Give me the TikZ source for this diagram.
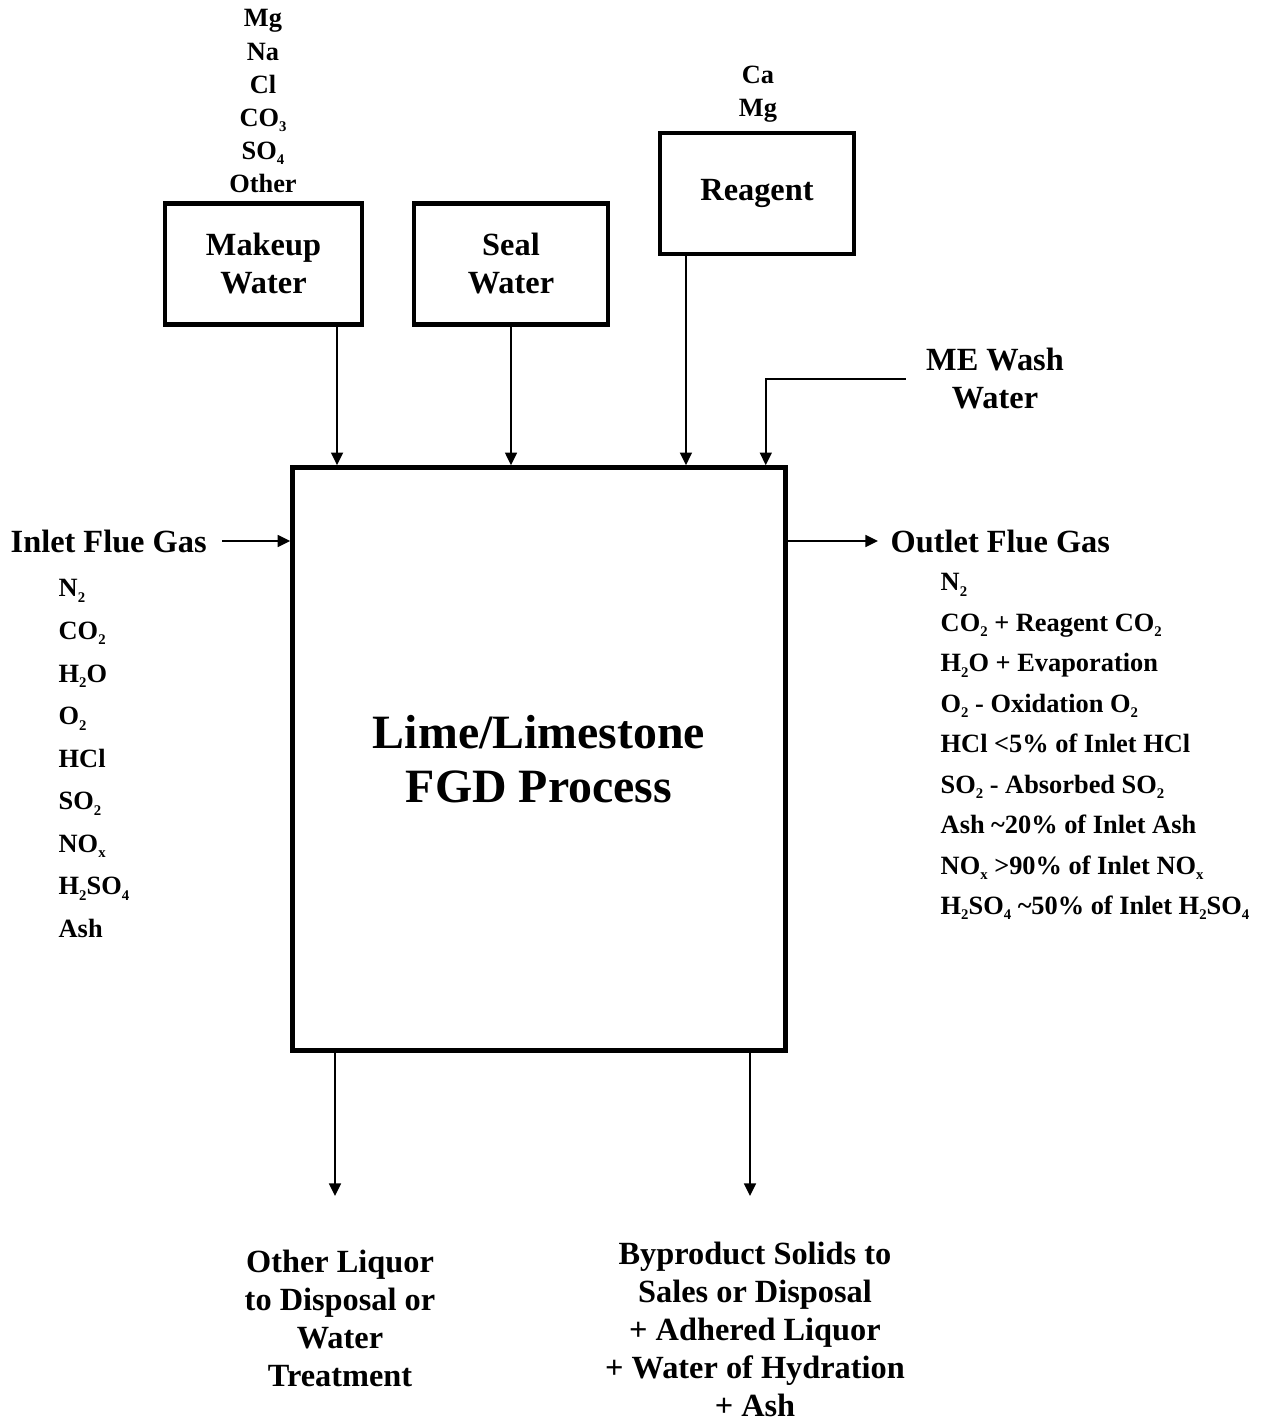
\documentclass[tikz,border=0pt]{standalone}
\usepackage{fontspec}
\setmainfont{Liberation Serif}
\usetikzlibrary{arrows.meta,positioning}
\newcommand{\sub}[1]{\raisebox{-0.45ex}{\fontsize{4.2}{4.2}\selectfont #1}}
\begin{document}
\begin{tikzpicture}[x=0.01cm, y=-0.01cm,
  flow/.style={-{Triangle[length=3.6pt,width=3.4pt]}, line width=0.5pt},
  unit/.style={draw, line width=1.2pt, minimum width=1.94cm, minimum height=1.21cm,
    align=center, font=\fontsize{9.2}{10.8}\selectfont\bfseries},
  lbl/.style={align=center, inner sep=0pt, font=\fontsize{9.2}{10.8}\selectfont\bfseries},
  ions/.style={align=center, inner sep=0pt, font=\fontsize{7.5}{9.4}\selectfont\bfseries},
  species/.style={align=left, inner sep=0pt, font=\fontsize{7.5}{12.1}\selectfont\bfseries}]
  \useasboundingbox (0,0) rectangle (1261,1418);
  % process block
  \node[draw, line width=1.5pt, minimum width=4.92cm, minimum height=5.82cm, align=center,
    font=\fontsize{13.6}{15.4}\selectfont\bfseries] (fgd) at (539,759) {Lime/Limestone\\FGD Process};
  % feed boxes
  \node[unit, minimum width=1.97cm] (makeup) at (263.5,264) {Makeup\\Water};
  \node[unit] (seal) at (511,264) {Seal\\Water};
  \node[unit] (reagent) at (757,193.5) {Reagent};
  \node[ions, anchor=north] (makeupions) at (263,9) {Mg\\Na\\Cl\\CO\sub{3}\\SO\sub{4}\\Other};
  \node[ions, anchor=north] (reagentions) at (758,65) {Ca\\Mg};
  \node[lbl] (mewash) at (995,379) {ME Wash\\Water};
  % gas streams
  \node[lbl, anchor=west] (inlet) at (10,541) {Inlet Flue Gas};
  \node[lbl, anchor=west] (outlet) at (890,541) {Outlet Flue Gas};
  \node[species, anchor=north west] (inletgas) at (58,579)
    {N\sub{2}\\CO\sub{2}\\H\sub{2}O\\O\sub{2}\\HCl\\SO\sub{2}\\NO\sub{x}\\H\sub{2}SO\sub{4}\\Ash};
  \node[species, font=\fontsize{7.5}{11.5}\selectfont\bfseries, anchor=north west] (outletgas) at (940,573)
    {N\sub{2}\\CO\sub{2} + Reagent CO\sub{2}\\H\sub{2}O + Evaporation\\O\sub{2} - Oxidation O\sub{2}\\
     HCl {<}5\% of Inlet HCl\\SO\sub{2} - Absorbed SO\sub{2}\\Ash \textasciitilde 20\% of Inlet Ash\\
     NO\sub{x} {>}90\% of Inlet NO\sub{x}\\H\sub{2}SO\sub{4} \textasciitilde 50\% of Inlet H\sub{2}SO\sub{4}};
  % products
  \node[lbl, anchor=north] (liquor) at (340,1249) {Other Liquor\\to Disposal or\\Water\\Treatment};
  \node[lbl, anchor=north] (solids) at (755,1241)
    {Byproduct Solids to\\Sales or Disposal\\+ Adhered Liquor\\+ Water of Hydration\\+ Ash};
  % connectors
  \coordinate (makeupout) at ([xshift=0.735cm]makeup.south);
  \coordinate (reagentout) at ([xshift=-0.71cm]reagent.south);
  \coordinate (liquorin) at ([xshift=-0.05cm, yshift=0.53cm]liquor.north);
  \coordinate (solidsin) at ([xshift=-0.05cm, yshift=0.45cm]solids.north);
  \draw[flow] (makeupout) -- (makeupout |- fgd.north);
  \draw[flow] (seal.south) -- (seal.south |- fgd.north);
  \draw[flow] (reagentout) -- (reagentout |- fgd.north);
  \draw[flow] ([xshift=-0.2cm]mewash.west) -| ([xshift=-0.22cm]fgd.north east);
  \draw[flow] ([xshift=0.15cm]inlet.east) -- (inlet.east -| fgd.west);
  \draw[flow] (outlet.west -| fgd.east) -- ([xshift=-0.12cm]outlet.west);
  \draw[flow] (liquorin |- fgd.south) -- (liquorin);
  \draw[flow] (solidsin |- fgd.south) -- (solidsin);
\end{tikzpicture}
\end{document}
